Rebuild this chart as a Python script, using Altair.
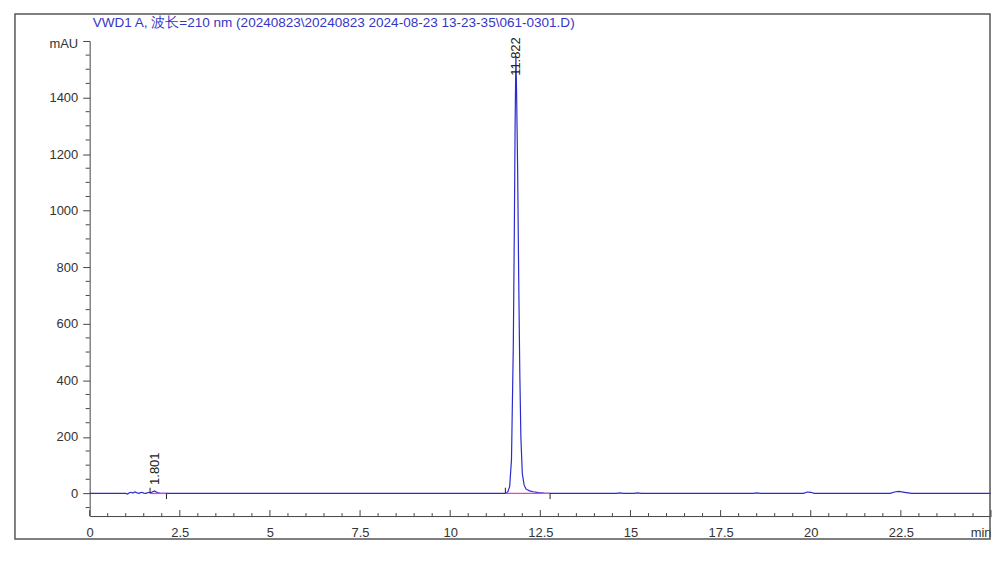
import altair as alt
import pandas as pd

# ---------------- data ----------------
title_text = "VWD1 A, 波长=210 nm (20240823\\20240823 2024-08-23 13-23-35\\061-0301.D)"

times = [0.0, 0.9, 1.0, 1.05, 1.1, 1.15, 1.2, 1.25, 1.3, 1.35, 1.4, 1.45, 1.5, 1.55,
         1.6, 1.65, 1.7, 1.75, 1.801, 1.85, 1.9, 1.95, 2.05, 11.5, 11.55, 11.6, 11.65,
         11.7, 11.75, 11.78, 11.8, 11.822, 11.84, 11.87, 11.9, 11.93, 11.96, 12.0,
         12.05, 12.1, 12.2, 12.3, 12.45, 12.6, 12.75, 12.9, 14.6, 14.7, 14.8, 15.1,
         15.2, 15.3, 18.4, 18.5, 18.6, 19.8, 19.9, 20.0, 20.1, 22.2, 22.35, 22.45,
         22.6, 22.8, 25.0]
signal = [0, 0, 0, -2, 2, 4, 1, 5, 3, 0, 2, 4, 1, 0,
          2, 4, 3, 6, 9, 5, 2, 1, 0, 0, 1, 6, 25,
          120, 520, 950, 1300, 1545, 1430, 1150, 760, 430, 200, 70,
          30, 16, 9, 6, 3, 1.5, 0.5, 0, 0, 2, 0, 0,
          2, 0, 0, 2, 0, 0, 5, 4, 0, 0, 6, 7,
          4, 0, 0]

peak_times = [1.801, 11.822]
peak_heights = [9, 1545]
peak_labels = ["1.801", "11.822"]

baseline_starts = [1.675, 11.53]
baseline_ends = [2.13, 12.77]

x_major = [0, 2.5, 5, 7.5, 10, 12.5, 15, 17.5, 20, 22.5, 25]
x_minor = [0.5, 1, 1.5, 2, 3, 3.5, 4, 4.5, 5.5, 6, 6.5, 7, 8, 8.5, 9, 9.5,
           10.5, 11, 11.5, 12, 13, 13.5, 14, 14.5, 15.5, 16, 16.5, 17, 18,
           18.5, 19, 19.5, 20.5, 21, 21.5, 22, 23, 23.5, 24, 24.5]
y_major = [0, 200, 400, 600, 800, 1000, 1200, 1400, 1600]
y_minor = [-50, 50, 100, 150, 250, 300, 350, 450, 500, 550, 650, 700, 750,
           850, 900, 950, 1050, 1100, 1150, 1250, 1300, 1350, 1450, 1500, 1550]

X_DOMAIN = [0, 25]
Y_DOMAIN = [-80, 1600]
FONT = "Liberation Sans"
AXIS_COLOR = "#444444"
LINE_BLUE = "#2b2bcc"
PINK = "#e040e0"

W, H = 905, 477

trace_df = pd.DataFrame({"t": times, "v": signal})
peaks_df = pd.DataFrame({"t": peak_times, "v": peak_heights, "lab": peak_labels})
base_df = pd.DataFrame({"s": baseline_starts, "e": baseline_ends})
xmaj_df = pd.DataFrame({"x": x_major})
xmin_df = pd.DataFrame({"x": x_minor})
ymin_df = pd.DataFrame({"y": y_minor})
one = pd.DataFrame({"a": [0]})

xs = alt.Scale(domain=X_DOMAIN, nice=False, zero=False)
ys = alt.Scale(domain=Y_DOMAIN, nice=False, zero=False)

x_axis = alt.Axis(values=x_major, ticks=False, grid=False, title=None,
                  labelExpr="datum.value == 25 ? 'min' : toString(datum.value)",
                  labelAlign=alt.expr("datum.value == 25 ? 'right' : 'center'"),
                  labelPadding=11, domainColor=AXIS_COLOR, labelFlush=False,
                  labelFont=FONT, labelFontSize=13, labelColor="#333333")
y_axis = alt.Axis(values=y_major, tickSize=7, grid=False, title=None,
                  labelExpr="datum.value == 1600 ? 'mAU' : toString(datum.value)",
                  labelOffset=alt.expr("datum.value == 1600 ? 3 : 0"),
                  labelPadding=5, domainColor=AXIS_COLOR,
                  tickColor=AXIS_COLOR, labelFont=FONT, labelFontSize=13,
                  labelColor="#333333")


def X(field):
    return alt.X(field, scale=xs, axis=x_axis, title=None)


def Y(field):
    return alt.Y(field, scale=ys, axis=y_axis, title=None)


def Yd(v):
    return alt.datum(v, scale=ys, axis=y_axis, title=None)


trace = alt.Chart(trace_df).mark_line(color=LINE_BLUE, strokeWidth=1.2).encode(
    x=X("t:Q"), y=Y("v:Q"))

frame = alt.Chart(one).mark_rect(
    fillOpacity=0, stroke="#555555", strokeWidth=1.5, clip=False
).encode(x=alt.value(-75), x2=alt.value(904), y=alt.value(-27), y2=alt.value(500))

ymin = alt.Chart(ymin_df).mark_rule(color=AXIS_COLOR, strokeWidth=1).encode(
    y=Y("y:Q"), x=alt.value(-4), x2=alt.value(0))

xmaj = alt.Chart(xmaj_df).mark_rule(color=AXIS_COLOR, strokeWidth=1).encode(
    x=X("x:Q"), y=alt.value(H), y2=alt.value(H - 6))
xmin = alt.Chart(xmin_df).mark_rule(color=AXIS_COLOR, strokeWidth=1).encode(
    x=X("x:Q"), y=alt.value(H), y2=alt.value(H - 3))

pink = alt.Chart(base_df).mark_rule(color=PINK, strokeWidth=1.3).encode(
    x=X("s:Q"), x2="e:Q", y=Yd(0))

up_ticks = alt.Chart(base_df).mark_rule(color="#222222", strokeWidth=1).encode(
    x=X("s:Q"), y=Yd(0), y2=alt.datum(20))
down_ticks = alt.Chart(base_df).mark_rule(color="#222222", strokeWidth=1).encode(
    x=X("e:Q"), y=Yd(0), y2=alt.datum(-20))

label_small = alt.Chart(peaks_df).transform_filter("datum.v < 100").mark_text(
    angle=270, align="left", baseline="middle", dx=6, font=FONT, fontSize=13,
    color="#222222").encode(x=X("t:Q"), y=Y("v:Q"), text="lab:N")
label_big = alt.Chart(peaks_df).transform_filter("datum.v >= 100").mark_text(
    angle=270, align="center", baseline="middle", dx=0, font=FONT, fontSize=13,
    color="#222222").encode(x=X("t:Q"), y=Y("v:Q"), text="lab:N")

title = alt.Chart(one).mark_text(
    align="left", baseline="middle", font=FONT, fontSize=13.6, color="#3535c8", clip=False
).encode(x=alt.value(3), y=alt.value(-18), text=alt.value(title_text))

chart = alt.layer(
    trace, frame, ymin, xmaj, xmin, pink, up_ticks, down_ticks, label_small, label_big, title
).properties(
    width=W, height=H,
    padding={"left": 82, "top": 32, "right": 1, "bottom": 40},
    autosize=alt.AutoSizeParams(type="none"),
    view=alt.ViewBackground(stroke="transparent", strokeWidth=0),
).configure_view(stroke="transparent", strokeWidth=0).configure_axis(
    grid=False
).configure(background="white")

chart.save("out.html", embed_options={"renderer": "svg", "actions": False})
